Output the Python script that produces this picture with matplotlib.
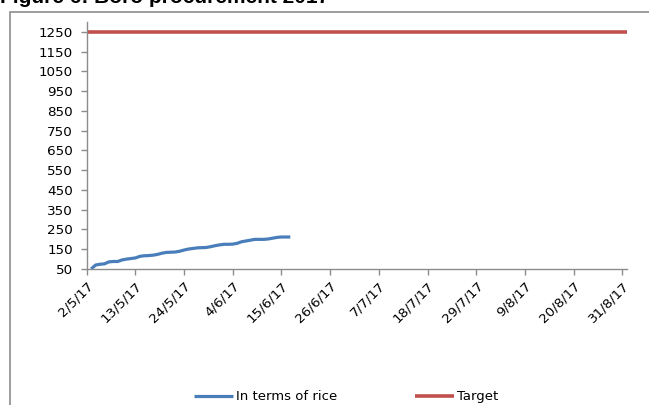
import matplotlib
matplotlib.use("Agg")
import matplotlib.pyplot as plt
import matplotlib.dates as mdates
from matplotlib.patches import Rectangle
import numpy as np
import pandas as pd

# Boro procurement 2017, cumulative (in terms of rice)
rice_start = "2017-05-03"
rice_values = [50, 70, 74, 76, 86, 88, 88, 96, 100, 103, 106, 114, 117, 118, 120,
               124, 130, 134, 135, 136, 140, 146, 151, 154, 157, 158, 159, 163,
               168, 172, 175, 175, 176, 180, 188, 192, 196, 200, 200, 200, 202,
               206, 210, 212, 212, 212]
target_dates = ["2017-05-02", "2017-09-01"]
target_values = [1250, 1250]
tick_dates = pd.date_range("2017-05-02", "2017-08-31", freq="11D")
y_ticks = list(range(50, 1251, 100))

rice_dates = pd.date_range(rice_start, periods=len(rice_values), freq="D")

plt.rcParams['font.family'] = ['DejaVu Sans']

fig = plt.figure(figsize=(6.49, 4.05), dpi=100)
ax = fig.add_axes([0.1336, 0.3358, 0.9656 - 0.1336, 0.9464 - 0.3358])

ax.plot(rice_dates, rice_values, color='#4a7ebb', linewidth=2.3,
        label='In terms of rice', solid_capstyle='butt')
ax.plot(pd.to_datetime(target_dates), target_values, color='#c0504d',
        linewidth=2.6, label='Target', solid_capstyle='butt')

ax.set_xlim(pd.Timestamp("2017-05-02"), pd.Timestamp("2017-09-01"))
ax.set_ylim(50, 1302)
ax.set_yticks(y_ticks)
ax.set_xticks(tick_dates)


def date_label(v, p):
    d = mdates.num2date(v)
    return "%d/%d/%s" % (d.day, d.month, d.strftime("%y"))


ax.xaxis.set_major_formatter(matplotlib.ticker.FuncFormatter(date_label))

for s in ['top', 'right']:
    ax.spines[s].set_visible(False)
for s in ['left', 'bottom']:
    ax.spines[s].set_color('#8c8c8c')
    ax.spines[s].set_linewidth(1.0)
ax.tick_params(axis='both', colors='#8c8c8c', length=4, width=1.0,
               labelcolor='black', labelsize=9.7)
ax.tick_params(axis='y', pad=6)
for lab in ax.get_xticklabels():
    lab.set_rotation(45)
    lab.set_ha('right')
    lab.set_rotation_mode('anchor')

# chart frame (partly outside the picture)
fig.patches.append(Rectangle((9.5 / 649, -0.1), 1.0, 1.1 - 11.7 / 405,
                             transform=fig.transFigure, fill=False,
                             edgecolor='#8c8c8c', linewidth=1.2))

# title is cut off by the top edge in the original
fig.text(0.0, 1 - 3 / 405, "Figure 6: Boro procurement 2017", fontsize=15,
         fontweight='bold', family='Liberation Sans', ha='left', va='baseline')

fig.legend(loc='lower center', ncol=2, bbox_to_anchor=(0.533, -0.025),
           frameon=False, fontsize=9.5, handlelength=3.0, handletextpad=0.2,
           columnspacing=5.9)

fig.savefig("out.png", dpi=100)
